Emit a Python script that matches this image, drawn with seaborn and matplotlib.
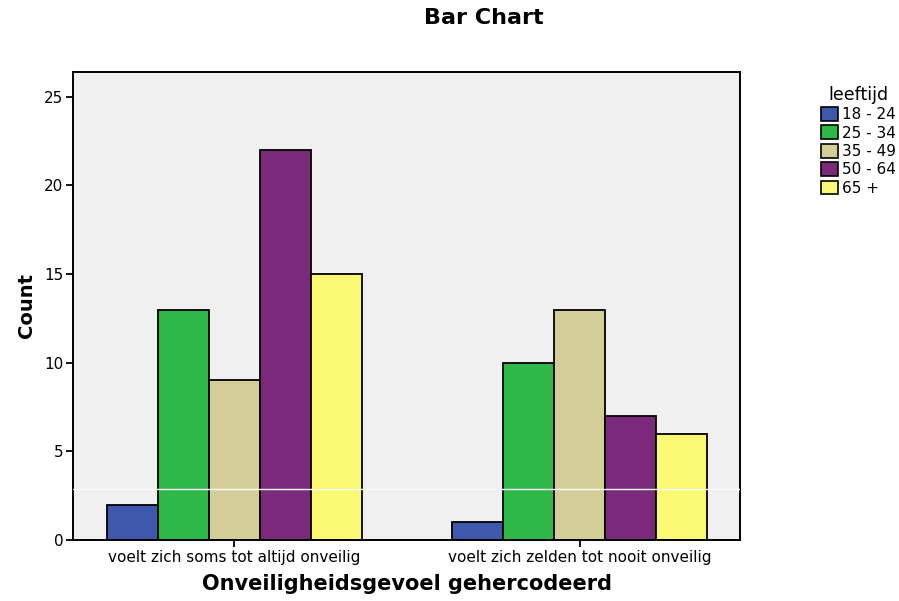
import numpy as np
import pandas as pd
import matplotlib
matplotlib.use("Agg")
import matplotlib.pyplot as plt
import seaborn as sns

groups = ["voelt zich soms tot altijd onveilig", "voelt zich zelden tot nooit onveilig"]
ages = ["18 - 24", "25 - 34", "35 - 49", "50 - 64", "65 +"]
counts_soms = [2, 13, 9, 22, 15]
counts_zelden = [1, 10, 13, 7, 6]
colors = ["#3E58AC", "#2EB848", "#D3CE97", "#7B2A7B", "#FBF873"]

data = pd.DataFrame({
    "groep": [groups[0]] * 5 + [groups[1]] * 5,
    "leeftijd": ages + ages,
    "Count": counts_soms + counts_zelden,
})

sns.set_style("white")
plt.rcParams["font.family"] = ["DejaVu Sans"]
plt.rcParams["text.color"] = "black"
plt.rcParams["axes.labelcolor"] = "black"
plt.rcParams["xtick.color"] = "black"
plt.rcParams["ytick.color"] = "black"

fig = plt.figure(figsize=(8.99, 6.01), dpi=100)
ax = fig.add_axes([73 / 899, 61 / 601, 667 / 899, 468 / 601])
ax.set_facecolor("#F0F0F0")

sns.barplot(data=data, x="groep", y="Count", hue="leeftijd", order=groups,
            hue_order=ages, palette=colors, width=0.74, edgecolor="black",
            linewidth=1.3, saturation=1, ax=ax, legend=False)

# witte lijn over het plot (zoals in de SPSS-uitvoer)
ax.axhline(2.88, color="white", lw=1, zorder=5)

ax.set_xlim(-0.468, 1.465)
ax.set_ylim(0, 26.4)
ax.set_yticks([0, 5, 10, 15, 20, 25])
ax.tick_params(axis="both", direction="out", length=5, width=1.3, color="black",
               labelsize=11, bottom=True, left=True, pad=2)
for s in ax.spines.values():
    s.set_color("black")
    s.set_linewidth(1.4)

ax.set_xlabel("Onveiligheidsgevoel gehercodeerd", fontsize=15, fontweight="bold", labelpad=7)
ax.set_ylabel("Count", fontsize=14, fontweight="bold", labelpad=6)
fig.text(484 / 899, 1 - 18 / 601, "Bar Chart", fontsize=16, fontweight="bold",
         ha="center", va="center")

handles = [plt.Rectangle((0, 0), 1, 1, facecolor=c, edgecolor="black", lw=1.2) for c in colors]
leg = fig.legend(handles, ages, title="leeftijd", loc="upper left",
                 bbox_to_anchor=(810 / 899, 1 - 75 / 601), frameon=False,
                 fontsize=11, title_fontsize=12.5, handlelength=1.1, handleheight=1.0,
                 handletextpad=0.3, labelspacing=0.22, borderpad=0.2)

plt.savefig("out.png", dpi=100)
